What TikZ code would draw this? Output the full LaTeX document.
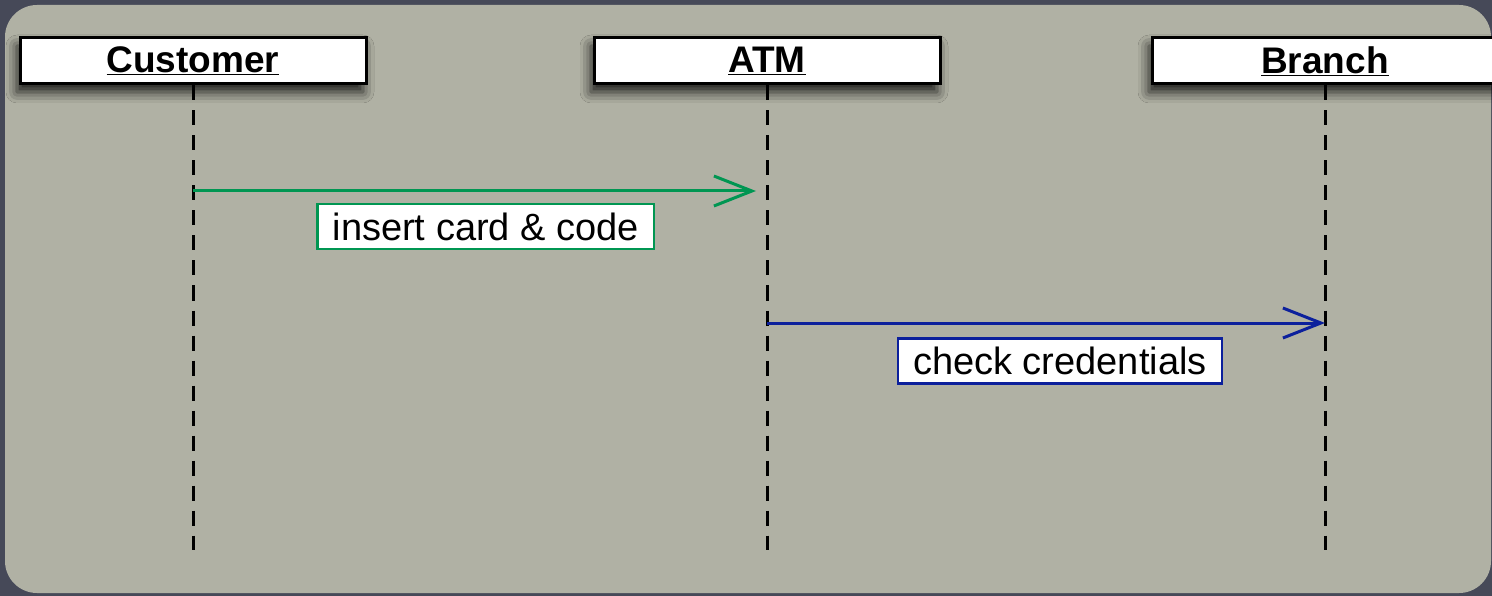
\documentclass[tikz,border=0pt]{standalone}
\usepackage{fontspec}
\setmainfont{Liberation Sans}
\usetikzlibrary{arrows.meta, positioning, shadows.blur}

\definecolor{slate}{RGB}{70,73,88}
\definecolor{panel}{RGB}{176,177,164}
\definecolor{msggreen}{RGB}{0,150,82}
\definecolor{msgblue}{RGB}{12,32,156}

\begin{document}
\begin{tikzpicture}[
            x=1pt, y=-1pt,
            actor/.style={
                    rectangle,
                    draw=black,
                    line width=3pt,
                    fill=white,
                    minimum width=346pt,
                    minimum height=46pt,
                    inner sep=0pt,
                    font=\fontsize{37}{42}\selectfont\bfseries,
                    blur shadow={shadow xshift=-3pt, shadow yshift=-8pt,
                                 shadow blur radius=11pt, shadow opacity=85}
                },
            lifeline/.style={
                    draw=black,
                    line width=3pt,
                    dash pattern=on 15pt off 10pt
                },
            msg/.style={
                    draw,
                    line width=3pt,
                    -{Straight Barb[length=38pt, width=30pt, line width=3pt]}
                },
            note/.style={
                    rectangle,
                    fill=white,
                    line width=2.5pt,
                    minimum height=45pt,
                    inner xsep=15pt,
                    inner ysep=0pt,
                    font=\fontsize{38}{42}\selectfont
                }
        ]

        % Background and panel
        \useasboundingbox (0,0) rectangle (1492,596);
        \fill[slate] (0,0) rectangle (1492,596);
        \fill[panel, rounded corners=32pt] (5,5) rectangle (1491,593);

        % Nodes
        \node [actor] (customer) at (193,61) {\underline{Customer}};
        \node [actor] (atm) at (767,61) {\underline{ATM}};
        \node [actor] (branch) at (1325,61) {\underline{Branch}};

        % Lifelines
        \coordinate (customer-end) at (193,550);
        \coordinate (atm-end) at (767,550);
        \coordinate (branch-end) at (1325,550);
        \path [lifeline] (customer.south) -- (customer-end);
        \path [lifeline] (atm.south) -- (atm-end);
        \path [lifeline] (branch.south) -- (branch-end);

        % Messages
        \coordinate (card-from) at (193,191);
        \coordinate (card-to) at (767,191);
        \coordinate (check-from) at (767,323);
        \coordinate (check-to) at (1325,323);

        \path [msg, draw=msggreen, shorten >=11pt] (card-from) -- (card-to)
            node [note, draw=msggreen, pos=0.51, below=12pt] (card) {insert card \& code};
        \path [msg, draw=msgblue] (check-from) -- (check-to)
            node [note, draw=msgblue, pos=0.525, below=14pt] (check) {check credentials};
    \end{tikzpicture}
\end{document}
